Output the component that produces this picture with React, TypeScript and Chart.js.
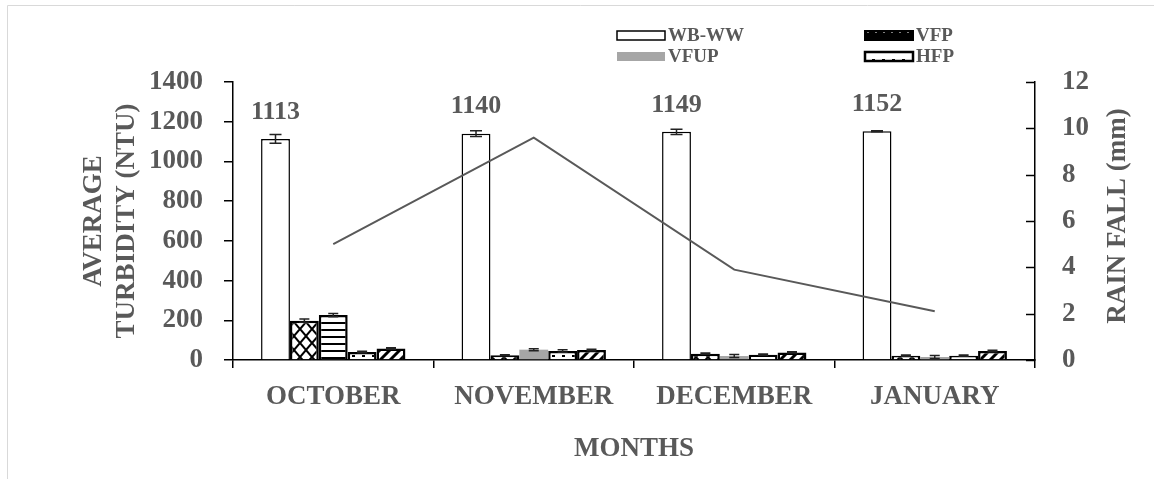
import React, { useEffect, useRef } from "react";
import { Chart, registerables } from "chart.js";
Chart.register(...registerables);

const months = ["OCTOBER", "NOVEMBER", "DECEMBER", "JANUARY"];
const legendNames = ["WB-WW", "VFP", "VFUP", "HFP", "HFUP"];
const wbww = [1113, 1140, 1149, 1152];
const wbwwErr = [22, 14, 13, 3];
const vfp = [198, 24, 32, 22];
const vfpErr = [8, 3, 3, 3];
const vfup = [226, 52, 20, 15];
const vfupErr = [8, 5, 8, 8];
const hfp = [40, 45, 27, 22];
const hfpErr = [4, 6, 3, 3];
const hfup = [58, 50, 38, 45];
const hfupErr = [4, 4, 3, 4];
const rainfall = [5.0, 9.6, 3.9, 2.1];
const leftTickStep = 200;
const leftMax = 1400;
const rightTickStep = 2;
const rightMax = 12;

const TXT = "#595959";
const FONT = "'Liberation Serif', 'Times New Roman', serif";

function tile(w: number, h: number, draw: (g: CanvasRenderingContext2D) => void) {
  const c = document.createElement("canvas");
  c.width = w;
  c.height = h;
  const g = c.getContext("2d")!;
  draw(g);
  return g.createPattern(c, "repeat")!;
}

export default function App() {
  const ref = useRef<HTMLCanvasElement>(null);
  useEffect(() => {
    const diamond = tile(12, 14, (g) => {
      g.fillStyle = "#fff";
      g.fillRect(0, 0, 12, 14);
      g.strokeStyle = "#000";
      g.lineWidth = 2;
      g.beginPath();
      g.moveTo(0, 7);
      g.lineTo(6, 0);
      g.lineTo(12, 7);
      g.lineTo(6, 14);
      g.closePath();
      g.stroke();
    });
    const hstripe = tile(8, 7, (g) => {
      g.fillStyle = "#fff";
      g.fillRect(0, 0, 8, 7);
      g.fillStyle = "#000";
      g.fillRect(0, 0, 8, 2);
    });
    const dots = tile(10, 8, (g) => {
      g.fillStyle = "#fff";
      g.fillRect(0, 0, 10, 8);
      g.fillStyle = "#000";
      g.fillRect(2, 3, 3, 2);
    });
    const diag = tile(10, 10, (g) => {
      g.fillStyle = "#fff";
      g.fillRect(0, 0, 10, 10);
      g.strokeStyle = "#000";
      g.lineWidth = 3;
      g.beginPath();
      g.moveTo(-2, 12);
      g.lineTo(12, -2);
      g.moveTo(-7, 7);
      g.lineTo(7, -7);
      g.moveTo(3, 17);
      g.lineTo(17, 3);
      g.stroke();
    });
    const triLegend = tile(8, 9, (g) => {
      g.fillStyle = "#000";
      g.fillRect(0, 0, 8, 9);
      g.fillStyle = "#fff";
      g.beginPath();
      g.moveTo(1, 3);
      g.lineTo(7, 3);
      g.lineTo(4, 6);
      g.closePath();
      g.fill();
    });
    const GRAY = "#a6a6a6";

    const errorPlugin = {
      id: "errorBars",
      afterDatasetsDraw(chart: any) {
        const ctx = chart.ctx;
        const ys = chart.scales.y;
        chart.data.datasets.forEach((ds: any, i: number) => {
          if (!ds.errors) return;
          const meta = chart.getDatasetMeta(i);
          meta.data.forEach((el: any, j: number) => {
            const v = ds.data[j];
            const e = ds.errors[j];
            const t = ys.getPixelForValue(v + e);
            const b = ys.getPixelForValue(Math.max(0, v - e));
            const cap = i === 1 ? 12 : 10;
            ctx.save();
            ctx.strokeStyle = "#222";
            ctx.lineWidth = 1.5;
            ctx.beginPath();
            ctx.moveTo(el.x, t);
            ctx.lineTo(el.x, b);
            ctx.moveTo(el.x - cap / 2, t);
            ctx.lineTo(el.x + cap / 2, t);
            ctx.moveTo(el.x - cap / 2, b);
            ctx.lineTo(el.x + cap / 2, b);
            ctx.stroke();
            ctx.restore();
          });
        });
        // data labels on WB-WW
        const meta = chart.getDatasetMeta(1);
        ctx.save();
        ctx.fillStyle = TXT;
        ctx.font = `bold 26px ${FONT}`;
        ctx.textAlign = "center";
        ctx.textBaseline = "middle";
        meta.data.forEach((el: any, j: number) => {
          ctx.fillText(String(wbww[j]), el.x, el.y - 27);
        });
        ctx.restore();
      },
    };

    const decoPlugin = {
      id: "deco",
      afterDraw(chart: any) {
        const ctx = chart.ctx;
        const y1 = chart.scales.y1;
        ctx.save();
        // right axis inner ticks
        ctx.strokeStyle = "#000";
        ctx.lineWidth = 1.5;
        y1.ticks.forEach((_t: any, i: number) => {
          const py = Math.round(y1.getPixelForTick(i)) + 0.5;
          ctx.beginPath();
          ctx.moveTo(y1.left - 9, py);
          ctx.lineTo(y1.left, py);
          ctx.stroke();
        });
        // right axis title
        ctx.fillStyle = TXT;
        ctx.font = `bold 27px ${FONT}`;
        ctx.translate(y1.right - 36, (y1.top + y1.bottom) / 2 - 5);
        ctx.rotate(-Math.PI / 2);
        ctx.textAlign = "center";
        ctx.textBaseline = "middle";
        ctx.fillText("RAIN FALL (mm)", 0, 0);
        ctx.restore();

        // legend
        const items = [
          { i: 1, x: 617, y: 31 },
          { i: 2, x: 865, y: 31 },
          { i: 3, x: 617, y: 52 },
          { i: 4, x: 865, y: 52 },
        ];
        ctx.save();
        items.forEach((it) => {
          const ds: any = chart.data.datasets[it.i];
          const w = 48,
            h = 9;
          if (it.i === 1) {
            ctx.fillStyle = "#fff";
            ctx.fillRect(it.x, it.y, w, h);
            ctx.strokeStyle = "#000";
            ctx.lineWidth = 1.5;
            ctx.strokeRect(it.x, it.y, w, h);
          } else if (it.i === 2) {
            ctx.fillStyle = triLegend;
            ctx.fillRect(it.x, it.y, w, h);
            ctx.strokeStyle = "#000";
            ctx.lineWidth = 2;
            ctx.strokeRect(it.x, it.y, w, h);
          } else if (it.i === 3) {
            ctx.fillStyle = GRAY;
            ctx.fillRect(it.x, it.y, w, h);
          } else {
            ctx.fillStyle = dots;
            ctx.fillRect(it.x, it.y, w, h);
            ctx.strokeStyle = "#000";
            ctx.lineWidth = 2.5;
            ctx.strokeRect(it.x, it.y, w, h);
          }
          ctx.fillStyle = TXT;
          ctx.font = `bold 19px ${FONT}`;
          ctx.textAlign = "left";
          ctx.textBaseline = "middle";
          ctx.fillText(ds.label, it.x + w + 3, it.y + h / 2 + 1);
        });
        // frame
        ctx.strokeStyle = "#d9d9d9";
        ctx.lineWidth = 1;
        ctx.beginPath();
        ctx.moveTo(7.5, 479);
        ctx.lineTo(7.5, 5.5);
        ctx.lineTo(1154, 5.5);
        ctx.stroke();
        ctx.restore();
      },
    };

    const tickFont = { family: FONT, size: 27, weight: "bold" as const };
    const chart = new Chart(ref.current!, {
      type: "bar",
      data: {
        labels: months,
        datasets: [
          {
            type: "line",
            label: "RAIN FALL",
            data: rainfall,
            yAxisID: "y1",
            borderColor: "#595959",
            borderWidth: 2,
            pointRadius: 0,
            tension: 0,
            order: 0,
          } as any,
          {
            label: legendNames[0],
            data: wbww,
            errors: wbwwErr,
            backgroundColor: "#fff",
            borderColor: "#000",
            borderWidth: 1.5,
            yAxisID: "y",
            order: 1,
          } as any,
          {
            label: legendNames[1],
            data: vfp,
            errors: vfpErr,
            backgroundColor: diamond,
            borderColor: "#000",
            borderWidth: 2.5,
            yAxisID: "y",
            order: 1,
          } as any,
          {
            label: legendNames[2],
            data: vfup,
            errors: vfupErr,
            backgroundColor: [hstripe, GRAY, GRAY, GRAY],
            borderColor: ["#000", GRAY, GRAY, GRAY],
            borderWidth: [2.5, 0, 0, 0],
            yAxisID: "y",
            order: 1,
          } as any,
          {
            label: legendNames[3],
            data: hfp,
            errors: hfpErr,
            backgroundColor: dots,
            borderColor: "#000",
            borderWidth: 2.5,
            yAxisID: "y",
            order: 1,
          } as any,
          {
            label: legendNames[4],
            data: hfup,
            errors: hfupErr,
            backgroundColor: diag,
            borderColor: "#000",
            borderWidth: 2.5,
            yAxisID: "y",
            order: 1,
          } as any,
        ],
      },
      options: {
        animation: false,
        responsive: false,
        devicePixelRatio: 1,
        layout: { padding: { top: 82, left: 0, right: 0, bottom: 0 } },
        datasets: { bar: { barPercentage: 1, categoryPercentage: 0.72 } },
        plugins: { legend: { display: false }, tooltip: { enabled: false } },
        scales: {
          x: {
            offset: true,
            grid: { display: true, drawOnChartArea: false, offset: true, color: "#000", lineWidth: 1.5, tickLength: 8 },
            border: { display: true, color: "#000", width: 1.5 },
            ticks: { color: TXT, font: tickFont, padding: 13, maxRotation: 0, autoSkip: false },
            title: { display: true, text: "MONTHS", color: TXT, font: tickFont, padding: { top: 0, bottom: 14 } },
            afterFit: (s: any) => {
              s.height = 119;
            },
          },
          y: {
            position: "left",
            min: 0,
            max: leftMax,
            grid: { display: true, drawOnChartArea: false, color: "#000", lineWidth: 1.5, tickLength: 9 },
            border: { display: true, color: "#000", width: 1.5 },
            ticks: {
              stepSize: leftTickStep,
              color: TXT,
              font: tickFont,
              padding: 21,
              callback: (v: any) => String(v),
            },
            title: {
              display: true,
              text: ["AVERAGE", "TURBIDITY (NTU)"],
              color: TXT,
              font: tickFont,
              padding: { top: 78, bottom: 0 },
            },
            afterFit: (s: any) => {
              s.width = 233;
            },
          },
          y1: {
            position: "right",
            min: 0,
            max: rightMax,
            grid: { display: true, drawOnChartArea: false, drawTicks: false, color: "#000" },
            border: { display: true, color: "#000", width: 1.5 },
            ticks: { stepSize: rightTickStep, color: TXT, font: tickFont, padding: 27, callback: (v: any) => String(v) },
            afterFit: (s: any) => {
              s.width = 119;
            },
          },
        },
      } as any,
      plugins: [errorPlugin, decoPlugin],
    });
    return () => chart.destroy();
  }, []);
  return (
    <div style={{ position: "fixed", left: 0, top: 0, width: 1154, height: 479, background: "#fff" }}>
      <canvas ref={ref} width={1154} height={479} style={{ width: 1154, height: 479, display: "block" }} />
    </div>
  );
}
